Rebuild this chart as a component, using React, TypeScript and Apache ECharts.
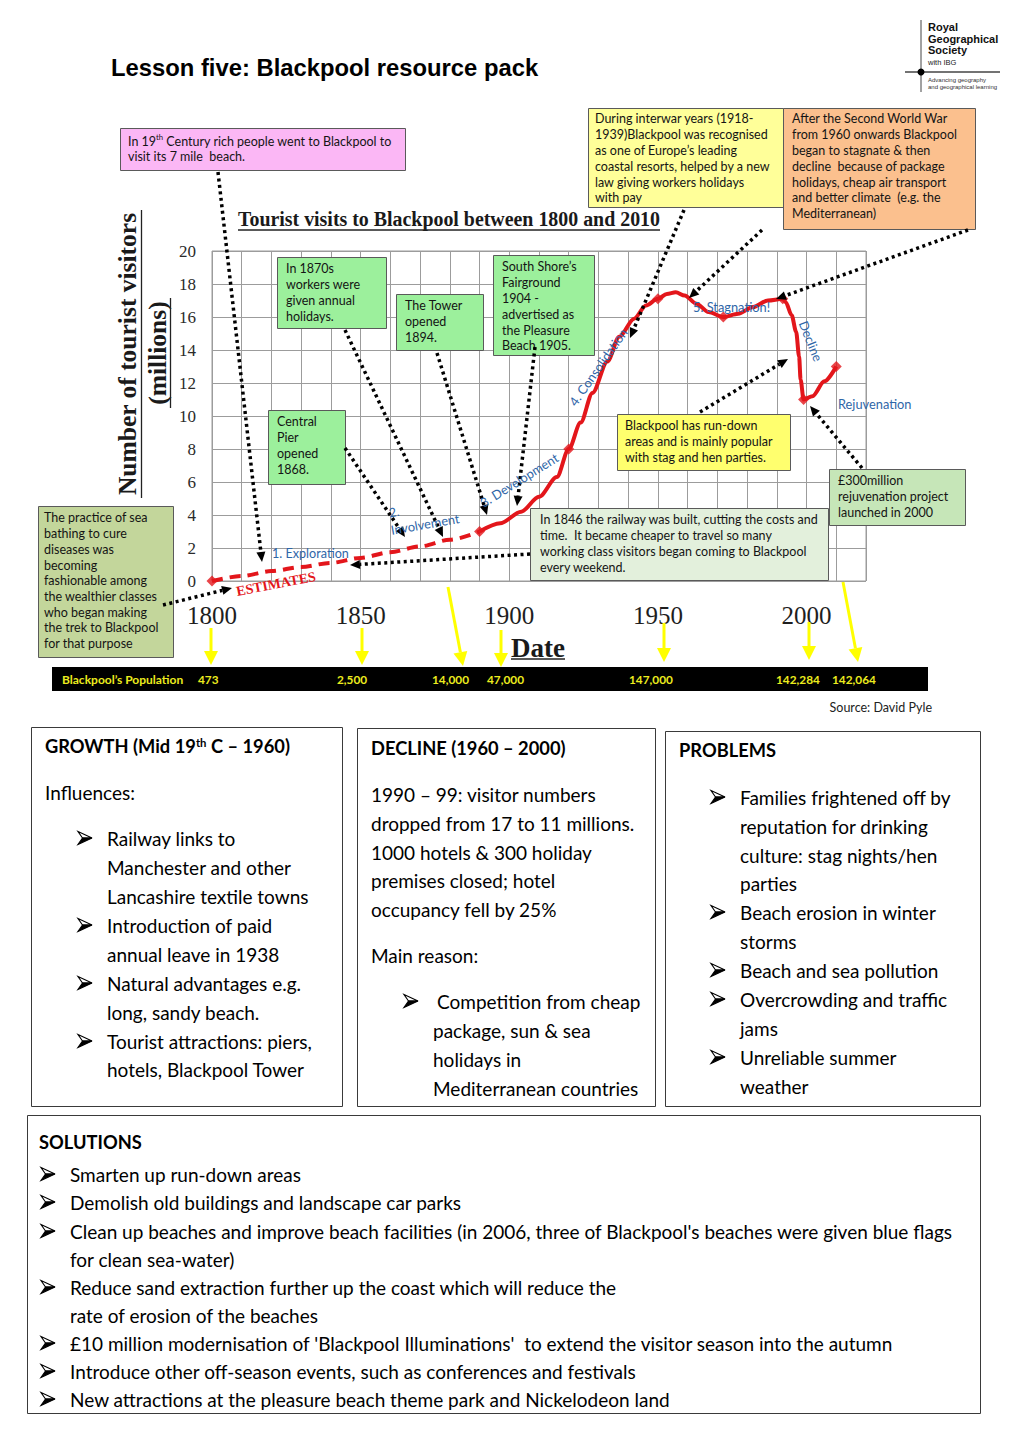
import React, { useEffect, useRef } from 'react';
import * as echarts from 'echarts';

// ---------------- DATA ----------------
const estimateYears = [1800, 1810, 1820, 1830, 1840, 1850, 1860, 1870, 1880, 1890];
const estimateVisitors = [0, 0.3, 0.6, 0.85, 1.1, 1.4, 1.75, 2.1, 2.5, 3.0];
const visitYears = [1890, 1897, 1904, 1910, 1916, 1920, 1924, 1928, 1933, 1937, 1942, 1946, 1950, 1953, 1956, 1959, 1963, 1967, 1972, 1977, 1982, 1987, 1992, 1993, 1995, 1996.5, 1997.5, 1998, 1999, 2002, 2006, 2010];
const visitValues = [3.0, 3.5, 4.2, 5.1, 6.3, 8.0, 9.6, 11.4, 13.3, 14.8, 15.9, 16.7, 17.1, 17.4, 17.5, 17.3, 16.8, 16.3, 16.0, 16.2, 16.6, 17.0, 17.1, 16.9, 16.1, 15.1, 13.6, 12.2, 11.0, 11.2, 12.1, 13.0];
const markerYears = [1800, 1890, 1920, 1950, 1972, 1992, 1999, 2010];
const xLabelYears = [1800, 1850, 1900, 1950, 2000];
const populationLabels = ['473', '2,500', '14,000', '47,000', '147,000', '142,284', '142,064'];

// ---------------- LAYOUT / STYLE ----------------
const populationLabelX = [198, 337, 432, 487, 629, 776, 832];
const RED = '#e3161b';
const BLUE = '#2f66a8';
const SANS = 'Lato';
const SERIF = 'Liberation Serif';
const GRIDC = '#9c9c9c';
const ANN = 12.5;
const deg = (d: number) => (d * Math.PI) / 180;

function txt(x: number, y: number, text: string, o: any = {}) {
  const style: any = {
    text,
    fontFamily: o.ff ?? SANS,
    fontSize: o.fs ?? ANN,
    fontWeight: o.fw ?? 'normal',
    fill: o.c ?? '#141414',
    align: o.align ?? 'left',
    verticalAlign: o.va ?? 'middle',
  };
  if (o.lh) style.lineHeight = o.lh;
  if (o.rich) style.rich = o.rich;
  return { type: 'text', x, y, z: o.z ?? 60, rotation: o.rot ?? 0, silent: true, style };
}

function box(x: number, y: number, w: number, h: number, fill: string, lines: string[], tx: number, ty: number, lh = 15.7, fs = ANN, rich?: any) {
  return [
    { type: 'rect', z: 40, silent: true, shape: { x: x + 0.5, y: y + 0.5, width: w, height: h }, style: { fill, stroke: '#5a5a5a', lineWidth: 1 } },
    txt(tx, ty - lh / 2, lines.join('\n'), { va: 'top', lh, fs, z: 41, rich }),
  ];
}

function plainBox(x: number, y: number, w: number, h: number) {
  return { type: 'rect', z: 40, silent: true, shape: { x: x + 0.5, y: y + 0.5, width: w, height: h }, style: { fill: '#fff', stroke: '#3a3a3a', lineWidth: 1 } };
}

function arrow(x1: number, y1: number, x2: number, y2: number, color: string, lw: number, dash: number[] | null, L: number, W: number) {
  const a = Math.atan2(y2 - y1, x2 - x1);
  const bx = x2 - L * Math.cos(a);
  const by = y2 - L * Math.sin(a);
  const nx = -Math.sin(a) * W;
  const ny = Math.cos(a) * W;
  const ls: any = { stroke: color, lineWidth: lw };
  if (dash) ls.lineDash = dash;
  return [
    { type: 'line', z: 45, silent: true, shape: { x1, y1, x2: bx, y2: by }, style: ls },
    { type: 'polygon', z: 45, silent: true, shape: { points: [[x2, y2], [bx + nx, by + ny], [bx - nx, by - ny]] }, style: { fill: color } },
  ];
}
const dotArrow = (x1: number, y1: number, x2: number, y2: number) => arrow(x1, y1, x2, y2, '#000', 3.5, [3, 3.5], 10, 4.5);
const yellowArrow = (x1: number, y1: number, x2: number, y2: number) => arrow(x1, y1, x2, y2, '#ffff00', 3, null, 14, 7);

const BODY = 19;
const HEAD = 18.3;
// Word-style 3D arrowhead bullet, drawn with polygons
function bullet(x: number, y: number) {
  return [
    { type: 'polygon', z: 42, silent: true, shape: { points: [[x, y - 6.5], [x + 14, y], [x + 4.5, y]] }, style: { fill: '#fff', stroke: '#000', lineWidth: 1.1, lineJoin: 'miter' } },
    { type: 'polygon', z: 42, silent: true, shape: { points: [[x, y + 6.5], [x + 14, y], [x + 4.5, y]] }, style: { fill: '#000', stroke: '#000', lineWidth: 1.1, lineJoin: 'miter' } },
  ];
}
const bodyLine = (x: number, y: number, s: string) => txt(x, y, s, { fs: BODY, c: '#000', z: 42 });
const heading = (x: number, y: number, s: string, rich?: any) => txt(x, y, s, { fs: HEAD, fw: 'bold', c: '#000', z: 42, rich });

const supRich = (fs: number, bold: boolean) => ({
  s: { fontFamily: SANS, fontSize: fs * 0.62, fontWeight: bold ? 'bold' : 'normal', verticalAlign: 'top', fill: bold ? '#000' : '#141414' },
});

function buildGraphic() {
  const g: any[] = [];
  // Page title + logo
  g.push(txt(111, 67, 'Lesson five: Blackpool resource pack', { ff: 'Liberation Sans', fw: 'bold', fs: 23.8, c: '#000' }));
  g.push({ type: 'line', z: 40, silent: true, shape: { x1: 921, y1: 20, x2: 921, y2: 92 }, style: { stroke: '#444', lineWidth: 1 } });
  g.push({ type: 'line', z: 40, silent: true, shape: { x1: 905, y1: 72, x2: 1000, y2: 72 }, style: { stroke: '#444', lineWidth: 1.5 } });
  g.push({ type: 'circle', z: 41, silent: true, shape: { cx: 921, cy: 72, r: 3.5 }, style: { fill: '#000' } });
  g.push(txt(928, 27, 'Royal', { ff: 'Liberation Sans', fw: 'bold', fs: 11, c: '#111' }));
  g.push(txt(928, 38.5, 'Geographical', { ff: 'Liberation Sans', fw: 'bold', fs: 11, c: '#111' }));
  g.push(txt(928, 50, 'Society', { ff: 'Liberation Sans', fw: 'bold', fs: 11, c: '#111' }));
  g.push(txt(928, 62, 'with IBG', { ff: 'Liberation Sans', fs: 7.5, c: '#222' }));
  g.push(txt(928, 79.5, 'Advancing geography', { ff: 'Liberation Sans', fs: 6, c: '#333' }));
  g.push(txt(928, 87, 'and geographical learning', { ff: 'Liberation Sans', fs: 6, c: '#333' }));

  // Chart titles
  g.push(txt(238, 219, 'Tourist visits to Blackpool between 1800 and 2010', { ff: SERIF, fw: 'bold', fs: 19.9, c: '#1a1a1a' }));
  g.push({ type: 'line', z: 60, silent: true, shape: { x1: 238, y1: 230, x2: 660, y2: 230 }, style: { stroke: '#222', lineWidth: 1.3 } });
  g.push(txt(127, 354, 'Number of tourist visitors', { ff: SERIF, fw: 'bold', fs: 25.5, c: '#1a1a1a', align: 'center', rot: deg(90) }));
  g.push({ type: 'line', z: 60, silent: true, shape: { x1: 141.5, y1: 210, x2: 141.5, y2: 498 }, style: { stroke: '#222', lineWidth: 1.3 } });
  g.push(txt(157, 353, '(millions)', { ff: SERIF, fw: 'bold', fs: 25.5, c: '#1a1a1a', align: 'center', rot: deg(90) }));
  g.push({ type: 'line', z: 60, silent: true, shape: { x1: 170.5, y1: 298, x2: 170.5, y2: 408 }, style: { stroke: '#222', lineWidth: 1.3 } });
  g.push(txt(538, 648, 'Date', { ff: SERIF, fw: 'bold', fs: 27, c: '#1a1a1a', align: 'center' }));
  g.push({ type: 'line', z: 60, silent: true, shape: { x1: 511, y1: 659, x2: 565, y2: 659 }, style: { stroke: '#222', lineWidth: 1.3 } });

  // Stage labels
  g.push(txt(272, 553, '1. Exploration', { c: BLUE, fs: 12.6 }));
  g.push(txt(389, 513, '2.', { c: BLUE, fs: 12.6, rot: deg(10) }));
  g.push(txt(425, 524, 'Involvement', { c: BLUE, fs: 12.8, align: 'center', rot: deg(10) }));
  g.push(txt(519, 480, '3. Development', { c: BLUE, fs: 12.8, align: 'center', rot: deg(32) }));
  g.push(txt(598, 367, '4. Consolidation', { c: BLUE, fs: 12.8, align: 'center', rot: deg(55) }));
  g.push(txt(693, 307, '5. Stagnation!', { c: BLUE, fs: 12.8 }));
  g.push(txt(811, 341, 'Decline', { c: BLUE, fs: 12.8, align: 'center', rot: deg(-68) }));
  g.push(txt(838, 404, 'Rejuvenation', { c: BLUE, fs: 12.8 }));
  g.push(txt(276, 584, 'ESTIMATES', { ff: SERIF, fw: 'bold', fs: 14, c: RED, align: 'center', rot: deg(11) }));

  // Annotation boxes
  g.push(...box(120, 128, 285, 42, '#fbb7f5', ['In 19{s|th} Century rich people went to Blackpool to', 'visit its 7 mile  beach.'], 128, 141, 15.5, ANN, supRich(ANN, false)));
  g.push(...box(588, 108, 195, 99, '#ffff99', ['During interwar years (1918-', '1939)Blackpool was recognised', 'as one of Europe\u2019s leading', 'coastal resorts, helped by a new', 'law giving workers holidays', 'with pay'], 595, 119, 15.8));
  g.push(...box(783, 108, 192, 121, '#fbc08e', ['After the Second World War', 'from 1960 onwards Blackpool', 'began to stagnate & then', 'decline  because of package', 'holidays, cheap air transport', 'and better climate  (e.g. the', 'Mediterranean)'], 792, 119, 15.8));
  g.push(...box(277, 257, 109, 71, '#9cf09c', ['In 1870s', 'workers were', 'given annual', 'holidays.'], 286, 269, 15.7));
  g.push(...box(396, 294, 87, 56, '#9cf09c', ['The Tower', 'opened', '1894.'], 405, 306, 15.8));
  g.push(...box(493, 255, 101, 100, '#9cf09c', ['South Shore\u2019s', 'Fairground', '1904 -', 'advertised as', 'the Pleasure', 'Beach 1905.'], 502, 267, 15.8));
  g.push(...box(268, 410, 77, 74, '#9cf09c', ['Central', 'Pier', 'opened', '1868.'], 277, 422, 15.7));
  g.push(...box(617, 414, 173, 56, '#ffff6e', ['Blackpool has run-down', 'areas and is mainly popular', 'with stag and hen parties.'], 625, 426, 15.8));
  g.push(...box(829, 469, 136, 56, '#c6e6b8', ['\u00a3300million', 'rejuvenation project', 'launched in 2000'], 838, 481, 15.6));
  g.push(...box(530, 508, 298, 72, '#e3f0dc', ['In 1846 the railway was built, cutting the costs and', 'time.  It became cheaper to travel so many', 'working class visitors began coming to Blackpool', 'every weekend.'], 540, 520, 15.7));
  g.push(...box(38, 506, 135, 151, '#c3d69b', ['The practice of sea', 'bathing to cure', 'diseases was', 'becoming', 'fashionable among', 'the wealthier classes', 'who began making', 'the trek to Blackpool', 'for that purpose'], 44, 518, 15.7));

  // Dotted annotation arrows
  g.push(...dotArrow(218, 172, 262, 562));
  g.push(...dotArrow(345, 330, 443, 537));
  g.push(...dotArrow(345, 448, 405, 537));
  g.push(...dotArrow(437, 353, 487, 515));
  g.push(...dotArrow(535, 347, 517, 506));
  g.push(...dotArrow(684, 210, 630, 338));
  g.push(...dotArrow(762, 230, 689, 298));
  g.push(...dotArrow(968, 230, 776, 299));
  g.push(...dotArrow(700, 412, 788, 359));
  g.push(...dotArrow(862, 468, 810, 406));
  g.push(...dotArrow(530, 554, 350, 565));
  g.push(...dotArrow(163, 605, 232, 588));

  // Population bar
  g.push({ type: 'rect', z: 40, silent: true, shape: { x: 52, y: 667, width: 876, height: 24 }, style: { fill: '#000' } });
  g.push(txt(62, 679.5, 'Blackpool\u2019s Population', { fw: 'bold', fs: 12, c: '#ecec1e', z: 41 }));
  populationLabels.forEach((p, i) => g.push(txt(populationLabelX[i], 679.5, p, { fw: 'bold', fs: 11.8, c: '#ecec1e', z: 41 })));
  g.push(...yellowArrow(211, 628, 211, 665));
  g.push(...yellowArrow(362, 628, 362, 665));
  g.push(...yellowArrow(448, 587, 463, 666));
  g.push(...yellowArrow(501, 630, 501, 667));
  g.push(...yellowArrow(664, 623, 664, 662));
  g.push(...yellowArrow(809, 622, 809, 660));
  g.push(...yellowArrow(843, 582, 858, 662));
  g.push(txt(932, 707, 'Source: David Pyle', { fs: 12.5, c: '#222', align: 'right' }));

  // GROWTH box
  g.push(plainBox(31, 727, 311, 379));
  g.push(heading(45, 746, '{h|GROWTH (Mid 19}{s|th}{h| C \u2013 1960)}', { h: { fontFamily: SANS, fontSize: HEAD, fontWeight: 'bold', fill: '#000' }, ...supRich(HEAD, true) }));
  g.push(bodyLine(45, 792, 'Influences:'));
  [838, 925, 983, 1041].forEach((y) => g.push(...bullet(78, y)));
  ([
    [838, 'Railway links to'], [867, 'Manchester and other'], [896, 'Lancashire textile towns'],
    [925, 'Introduction of paid'], [954, 'annual leave in 1938'], [983, 'Natural advantages e.g.'],
    [1012, 'long, sandy beach.'], [1041, 'Tourist attractions: piers,'], [1069, 'hotels, Blackpool Tower'],
  ] as [number, string][]).forEach(([y, s]) => g.push(bodyLine(107, y, s)));

  // DECLINE box
  g.push(plainBox(357, 728, 298, 378));
  g.push(heading(371, 748, 'DECLINE (1960 \u2013 2000)'));
  ([
    [794, '1990 \u2013 99: visitor numbers'], [823, 'dropped from 17 to 11 millions.'], [852, '1000 hotels & 300 holiday'],
    [880, 'premises closed; hotel'], [909, 'occupancy fell by 25%'], [955, 'Main reason:'],
  ] as [number, string][]).forEach(([y, s]) => g.push(bodyLine(371, y, s)));
  g.push(...bullet(404, 1001));
  g.push(bodyLine(437, 1001, 'Competition from cheap'));
  ([[1030, 'package, sun & sea'], [1059, 'holidays in'], [1088, 'Mediterranean countries']] as [number, string][]).forEach(([y, s]) => g.push(bodyLine(433, y, s)));

  // PROBLEMS box
  g.push(plainBox(665, 731, 315, 375));
  g.push(heading(679, 750, 'PROBLEMS'));
  [797, 912, 970, 999, 1057].forEach((y) => g.push(...bullet(711, y)));
  ([
    [797, 'Families frightened off by'], [826, 'reputation for drinking'], [855, 'culture: stag nights/hen'],
    [883, 'parties'], [912, 'Beach erosion in winter'], [941, 'storms'], [970, 'Beach and sea pollution'],
    [999, 'Overcrowding and traffic'], [1028, 'jams'], [1057, 'Unreliable summer'], [1086, 'weather'],
  ] as [number, string][]).forEach(([y, s]) => g.push(bodyLine(740, y, s)));

  // SOLUTIONS box
  g.push(plainBox(27, 1115, 953, 298));
  g.push(heading(39, 1142, 'SOLUTIONS'));
  [1174, 1202, 1231, 1287, 1343, 1371, 1399].forEach((y) => g.push(...bullet(41, y)));
  ([
    [1174, 'Smarten up run-down areas'],
    [1202, 'Demolish old buildings and landscape car parks'],
    [1231, "Clean up beaches and improve beach facilities (in 2006, three of Blackpool's beaches were given blue flags"],
    [1259, 'for clean sea-water)'],
    [1287, 'Reduce sand extraction further up the coast which will reduce the'],
    [1315, 'rate of erosion of the beaches'],
    [1343, "\u00a310 million modernisation of 'Blackpool Illuminations'  to extend the visitor season into the autumn"],
    [1371, 'Introduce other off-season events, such as conferences and festivals'],
    [1399, 'New attractions at the pleasure beach theme park and Nickelodeon land'],
  ] as [number, string][]).forEach(([y, s]) => g.push(bodyLine(70, y, s)));

  return g;
}

export default function App() {
  const ref = useRef<HTMLDivElement>(null);
  useEffect(() => {
    const chart = echarts.init(ref.current as HTMLDivElement, null, { renderer: 'svg' });
    const estData = estimateYears.map((y, i) => [y, estimateVisitors[i]]);
    const visData = visitYears.map((y, i) => [y, visitValues[i]]);
    const allYears = [...estimateYears, ...visitYears];
    const allVals = [...estimateVisitors, ...visitValues];
    const markerData = markerYears.map((y) => [y, allVals[allYears.indexOf(y)]]);
    chart.setOption({
      animation: false,
      backgroundColor: '#ffffff',
      grid: { left: 212, top: 251, width: 654, height: 330, show: true, borderColor: GRIDC, borderWidth: 1, backgroundColor: 'transparent' },
      xAxis: {
        type: 'value', min: 1800, max: 2020, interval: 10,
        axisLine: { show: false }, axisTick: { show: false },
        splitLine: { show: true, lineStyle: { color: GRIDC, width: 1 } },
        axisLabel: {
          formatter: (v: number) => (xLabelYears.includes(v) ? String(v) : ''),
          fontFamily: SERIF, fontSize: 25, color: '#1e1e1e', margin: 22,
        },
      },
      yAxis: {
        type: 'value', min: 0, max: 20, interval: 2,
        axisLine: { show: false }, axisTick: { show: false },
        splitLine: { show: true, lineStyle: { color: GRIDC, width: 1 } },
        axisLabel: { fontFamily: SERIF, fontSize: 17, color: '#2a2a2a', margin: 16 },
      },
      series: [
        { type: 'line', name: 'Estimates', data: estData, smooth: 0.3, smoothMonotone: 'x', showSymbol: false, clip: false, z: 5,
          lineStyle: { color: RED, width: 4, type: [11, 7] } },
        { type: 'line', name: 'Tourist visits', data: visData, smooth: 0.3, smoothMonotone: 'x', showSymbol: false, clip: false, z: 5,
          lineStyle: { color: RED, width: 4 } },
        { type: 'scatter', name: 'Markers', data: markerData, symbol: 'diamond', symbolSize: 11, clip: false, z: 6,
          itemStyle: { color: RED } },
      ],
      graphic: buildGraphic(),
    });
    return () => chart.dispose();
  }, []);
  return <div ref={ref} style={{ position: 'absolute', left: 0, top: 0, width: 1020, height: 1442, background: '#fff' }} />;
}
